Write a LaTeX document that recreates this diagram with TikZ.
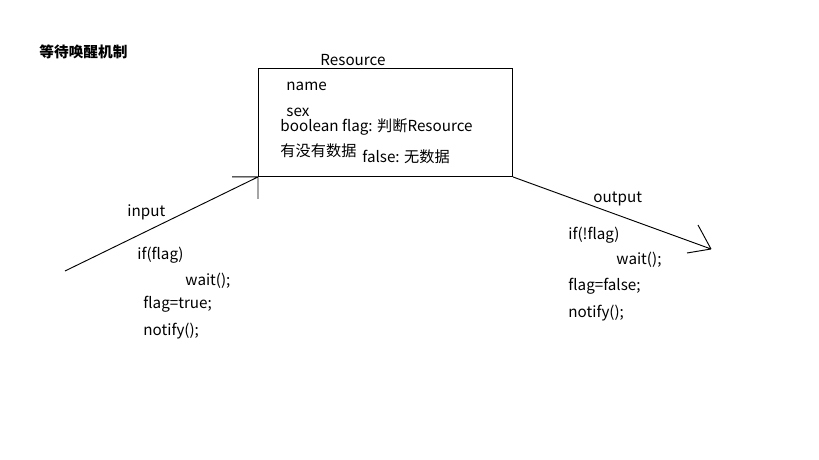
\documentclass[tikz,border=0pt]{standalone}
\usepackage{fontspec}
\setmainfont{Noto Sans CJK SC}
\usepackage{tikz}

\begin{document}
\begin{tikzpicture}[x=0.75pt, y=-0.75pt, line width=0.7pt,
    txt/.style={anchor=base west, inner sep=0pt, font=\fontsize{11.4}{13}\selectfont},
    box/.style={draw, anchor=north west, minimum width=190.5pt, minimum height=81pt, inner sep=0pt}]
    \useasboundingbox (0, 0) rectangle (819, 460);
    \node[txt, font=\fontsize{11}{13}\selectfont\bfseries] (title) at (39, 58) {等待唤醒机制};

    \node[box] (res) at (258, 68) {};
    \node[txt] (resname) at (320, 66) {Resource};
    \node[txt] (name) at (286, 91) {name};
    \node[txt] (sex) at (286, 116.5) {sex};
    \node[txt] (flag) at (280, 132) {boolean flag: 判断Resource};
    \node[txt] (hasdata) at (280, 157) {有没有数据};
    \node[txt] (nodata) at (362, 163) {false: 无数据};

    \coordinate (instart) at (65, 271);
    \coordinate (outend) at (711, 249);
    \draw
    (instart) -- (res.south west)
    (res.south west) -- ++(-26, 0)
    (res.south west) -- ++(0, 22)
    (res.south east) -- (outend)
    (outend) -- ++(-13, -24)
    (outend) -- ++(-24, 4);

    \node[txt] (input) at (127, 217) {input};
    \node[txt] (inif) at (137, 260) {if(flag)};
    \node[txt] (inwait) at (185, 286) {wait();};
    \node[txt] (inset) at (143, 309) {flag=true;};
    \node[txt] (innotify) at (143, 335) {notify();};

    \node[txt] (output) at (593, 203) {output};
    \node[txt] (outif) at (568, 239) {if(!flag)};
    \node[txt] (outwait) at (616, 265) {wait();};
    \node[txt] (outset) at (568, 291) {flag=false;};
    \node[txt] (outnotify) at (568, 317) {notify();};
\end{tikzpicture}
\end{document}
